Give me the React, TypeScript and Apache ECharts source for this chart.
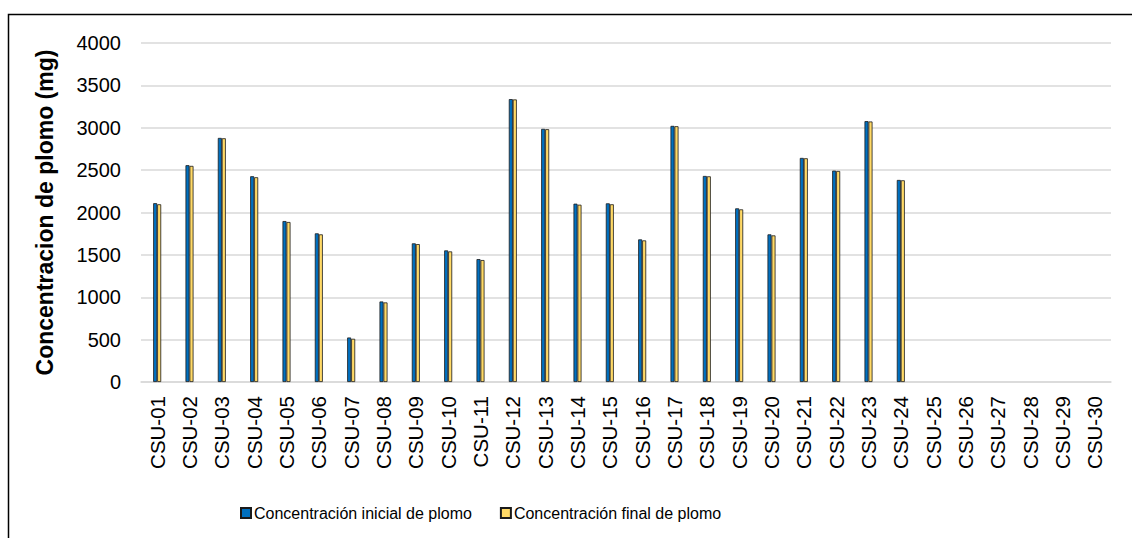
import React, { useEffect, useRef } from "react";
import * as echarts from "echarts";

const categories = [
  "CSU-01", "CSU-02", "CSU-03", "CSU-04", "CSU-05", "CSU-06", "CSU-07", "CSU-08", "CSU-09", "CSU-10",
  "CSU-11", "CSU-12", "CSU-13", "CSU-14", "CSU-15", "CSU-16", "CSU-17", "CSU-18", "CSU-19", "CSU-20",
  "CSU-21", "CSU-22", "CSU-23", "CSU-24", "CSU-25", "CSU-26", "CSU-27", "CSU-28", "CSU-29", "CSU-30",
];

const inicial: (number | null)[] = [
  2110, 2558, 2880, 2428, 1899, 1754, 525, 950, 1636, 1553,
  1450, 3338, 2987, 2104, 2108, 1683, 3022, 2431, 2049, 1742,
  2644, 2494, 3078, 2384, null, null, null, null, null, null,
];

const final: (number | null)[] = [
  2097, 2550, 2876, 2416, 1888, 1742, 510, 939, 1627, 1541,
  1439, 3334, 2983, 2092, 2097, 1671, 3018, 2427, 2037, 1730,
  2640, 2490, 3074, 2380, null, null, null, null, null, null,
];

const seriesNames = ["Concentración inicial de plomo", "Concentración final de plomo"];
const yAxisTitle = "Concentracion de plomo (mg)";

const FONT = "'Liberation Sans', Arial, sans-serif";

export default function App() {
  const ref = useRef<HTMLDivElement>(null);

  useEffect(() => {
    document.body.style.margin = "0";
    if (!ref.current) return;
    const chart = echarts.init(ref.current, undefined, { renderer: "svg" });
    chart.setOption({
      animation: false,
      backgroundColor: "#ffffff",
      textStyle: { fontFamily: FONT },
      grid: { left: 141, right: 21, top: 43, bottom: 156, containLabel: false },
      graphic: [
        {
          type: "rect",
          shape: { x: 8.5, y: 14.5, width: 1200, height: 600 },
          style: { fill: "none", stroke: "#000000", lineWidth: 1.5 },
          silent: true,
          z: 100,
        },
      ],
      legend: {
        left: 235,
        top: 500,
        itemWidth: 10,
        itemHeight: 10,
        itemGap: 28,
        icon: "rect",
        textStyle: { fontFamily: FONT, fontSize: 16, color: "#000000", padding: [0, 0, 0, -2] },
        data: seriesNames,
      },
      xAxis: {
        type: "category",
        data: categories,
        axisLine: { show: true, lineStyle: { color: "#d9d9d9", width: 1.5 } },
        axisTick: { show: false },
        axisLabel: {
          rotate: 90,
          fontSize: 20.5,
          color: "#000000",
          fontFamily: FONT,
          margin: 14,
          interval: 0,
        },
      },
      yAxis: {
        type: "value",
        min: 0,
        max: 4000,
        interval: 500,
        name: yAxisTitle,
        nameLocation: "middle",
        nameRotate: 90,
        nameGap: 85,
        nameTextStyle: { fontSize: 23, fontWeight: "bold", color: "#000000", fontFamily: FONT },
        axisLine: { show: false },
        axisTick: { show: false },
        axisLabel: {
          fontSize: 20,
          color: "#000000",
          margin: 20,
          fontFamily: FONT,
          formatter: (v: number) => String(v),
        },
        splitLine: { lineStyle: { color: "#d9d9d9", width: 1.5 } },
      },
      series: [
        {
          name: seriesNames[0],
          type: "bar",
          data: inicial,
          barWidth: 4,
          barGap: "0%",
          itemStyle: { color: "#0070C0", borderColor: "#1a1a1a", borderWidth: 0.8 },
        },
        {
          name: seriesNames[1],
          type: "bar",
          data: final,
          barWidth: 4,
          barGap: "0%",
          itemStyle: { color: "#FFD966", borderColor: "#1a1a1a", borderWidth: 0.8 },
        },
      ],
    });
    return () => chart.dispose();
  }, []);

  return <div ref={ref} style={{ width: 1132, height: 538 }} />;
}
